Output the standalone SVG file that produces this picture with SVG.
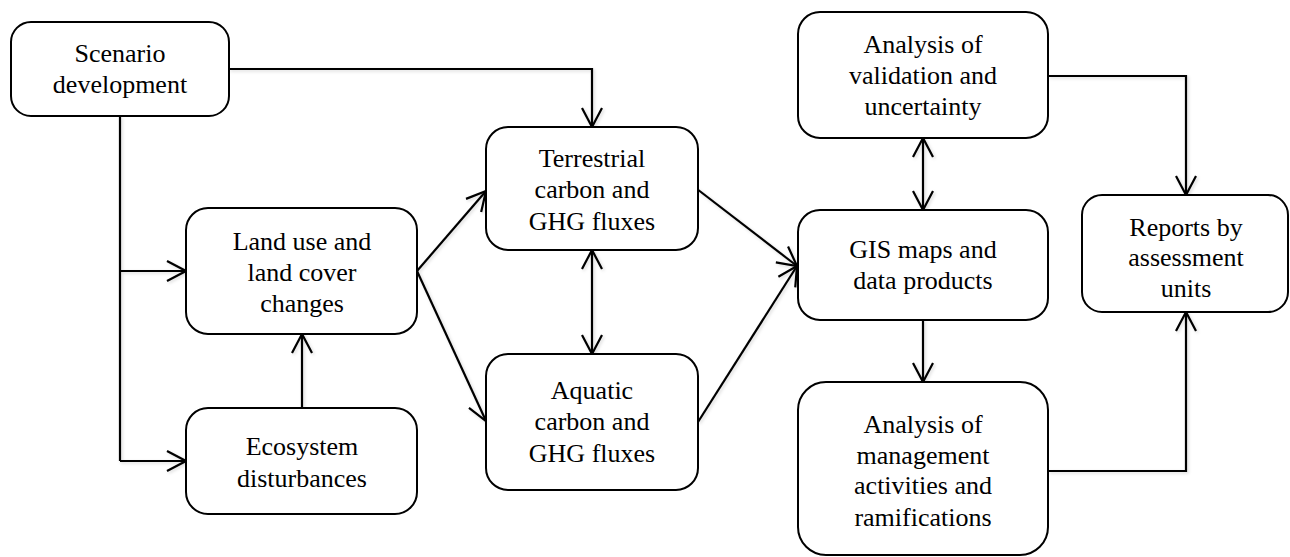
<svg xmlns="http://www.w3.org/2000/svg" width="1290" height="557" viewBox="0 0 1290 557">
<style>
.box{fill:#fff;stroke:#000;stroke-width:2}
.t{font-family:'Liberation Serif','DejaVu Serif',serif;font-size:26px;fill:#000;text-anchor:middle}
.c{fill:none;stroke:#000;stroke-width:2.2}
.a{marker-end:url(#ah)}
.d{marker-start:url(#ah);marker-end:url(#ah)}
</style>
<defs>
<marker id="ah" markerUnits="userSpaceOnUse" viewBox="-22 -12 24 24" markerWidth="24" markerHeight="24" refX="0" refY="0" orient="auto-start-reverse">
<path d="M-19,-10 L0,0 L-19,10" fill="none" stroke="#000" stroke-width="2.2"/>
</marker>
<filter id="sh" x="-5%" y="-5%" width="115%" height="115%">
<feDropShadow dx="1.5" dy="1.5" stdDeviation="1.5" flood-color="#000" flood-opacity="0.15"/>
</filter>
</defs>
<g id="connectors" filter="url(#sh)">
<path class="c a" d="M229,69 H592 V127"/>
<path class="c" d="M120,116 V461"/>
<path class="c a" d="M120,271 H186"/>
<path class="c a" d="M120,461 H186"/>
<path class="c a" d="M302,408 V334"/>
<path class="c a" d="M417,271 L486,191"/>
<path class="c a" d="M417,271 L486,421"/>
<path class="c d" d="M592,250 V354"/>
<path class="c a" d="M697,189 L797,266"/>
<path class="c a" d="M698,422 L797,266"/>
<path class="c d" d="M923,138 V210"/>
<path class="c a" d="M1048,76 H1186 V195"/>
<path class="c a" d="M923,320 V382"/>
<path class="c a" d="M1048,471 H1186 V312"/>
</g>
<g id="scenario">
<rect class="box" x="11" y="22" width="218" height="94" rx="20"/>
<text class="t" x="120" y="62" font-family="Liberation Serif">Scenario</text>
<text class="t" x="120" y="93" font-family="Liberation Serif">development</text>
</g>
<g id="landuse">
<rect class="box" x="186" y="208" width="231" height="126" rx="22"/>
<text class="t" x="302" y="250">Land use and</text>
<text class="t" x="302" y="281">land cover</text>
<text class="t" x="302" y="312">changes</text>
</g>
<g id="ecosystem">
<rect class="box" x="186" y="408" width="231" height="106" rx="22"/>
<text class="t" x="302" y="455">Ecosystem</text>
<text class="t" x="302" y="487">disturbances</text>
</g>
<g id="terrestrial">
<rect class="box" x="486" y="127" width="212" height="123" rx="22"/>
<text class="t" x="592" y="167">Terrestrial</text>
<text class="t" x="592" y="198">carbon and</text>
<text class="t" x="592" y="230">GHG fluxes</text>
</g>
<g id="aquatic">
<rect class="box" x="486" y="354" width="212" height="136" rx="22"/>
<text class="t" x="592" y="399">Aquatic</text>
<text class="t" x="592" y="430">carbon and</text>
<text class="t" x="592" y="462">GHG fluxes</text>
</g>
<g id="validation">
<rect class="box" x="798" y="12" width="250" height="126" rx="22"/>
<text class="t" x="923" y="53">Analysis of</text>
<text class="t" x="923" y="84">validation and</text>
<text class="t" x="923" y="115">uncertainty</text>
</g>
<g id="gis">
<rect class="box" x="798" y="210" width="250" height="110" rx="22"/>
<text class="t" x="923" y="258">GIS maps and</text>
<text class="t" x="923" y="289">data products</text>
</g>
<g id="management">
<rect class="box" x="798" y="382" width="250" height="173" rx="28"/>
<text class="t" x="923" y="433">Analysis of</text>
<text class="t" x="923" y="464">management</text>
<text class="t" x="923" y="494">activities and</text>
<text class="t" x="923" y="526">ramifications</text>
</g>
<g id="reports">
<rect class="box" x="1082" y="195" width="206" height="117" rx="20"/>
<text class="t" x="1186" y="236">Reports by</text>
<text class="t" x="1186" y="266">assessment</text>
<text class="t" x="1186" y="297">units</text>
</g>
</svg>
